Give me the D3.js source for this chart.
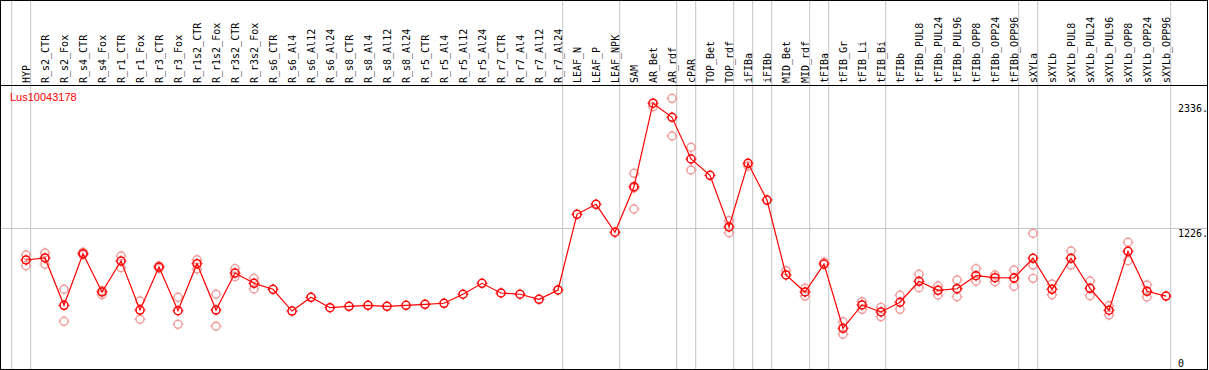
<!DOCTYPE html>
<html>
<head>
<meta charset="utf-8">
<script src="https://cdn.jsdelivr.net/npm/d3@7"></script>
<style>
  body { margin: 0; background: #fff; }
  svg { display: block; }
</style>
</head>
<body>
<div id="chart"></div>
<script>
const geneName = "Lus10043178";
const samples = ["HYP", "R_s2_CTR", "R_s2_Fox", "R_s4_CTR", "R_s4_Fox", "R_r1_CTR", "R_r1_Fox", "R_r3_CTR", "R_r3_Fox",
  "R_r1s2_CTR", "R_r1s2_Fox", "R_r3s2_CTR", "R_r3s2_Fox", "R_s6_CTR", "R_s6_Al4", "R_s6_Al12", "R_s6_Al24",
  "R_s8_CTR", "R_s8_Al4", "R_s8_Al12", "R_s8_Al24", "R_r5_CTR", "R_r5_Al4", "R_r5_Al12", "R_r5_Al24",
  "R_r7_CTR", "R_r7_Al4", "R_r7_Al12", "R_r7_Al24", "LEAF_N", "LEAF_P", "LEAF_NPK", "SAM", "AR_Bet", "AR_rdf",
  "cPAR", "TOP_Bet", "TOP_rdf", "iFIBa", "iFIBb", "MID_Bet", "MID_rdf", "tFIBa", "tFIB_Gr", "tFIB_Li", "tFIB_Bi",
  "tFIBb", "tFIBb_PUL8", "tFIBb_PUL24", "tFIBb_PUL96", "tFIBb_OPP8", "tFIBb_OPP24", "tFIBb_OPP96",
  "sXYLa", "sXYLb", "sXYLb_PUL8", "sXYLb_PUL24", "sXYLb_PUL96", "sXYLb_OPP8", "sXYLb_OPP24", "sXYLb_OPP96"];
const means = [945, 963, 543, 1001, 661, 936, 501, 883, 495,
  912, 501, 829, 738, 685, 492, 614, 522,
  534, 543, 534, 543, 552, 561, 641, 738,
  652, 641, 596, 679, 1350, 1439, 1191, 1595, 2336, 2211,
  1841, 1696, 1238, 1803, 1477, 812, 661, 909, 339, 546, 484,
  570, 756, 676, 690, 806, 788, 785,
  960, 685, 960, 694, 499, 1022, 667, 625];
const replicates = [[989, 894], [1007, 907], [685, 401], [1013, 992], [672, 637], [980, 877], [581, 419], [892, 871], [614, 374],
  [947, 865], [641, 357], [868, 797], [782, 688], [], [], [], [],
  [], [], [], [], [], [], [], [],
  [], [], [], [], [], [], [], [1714, 1584, 1397], [2305], [2379, 2045],
  [1945, 1743], [], [1293, 1187], [1779], [], [850], [694, 625], [927], [397, 286], [575, 507], [525, 442],
  [632, 507], [818, 699], [714, 634], [767, 619], [868, 756], [812, 752], [856, 712],
  [1182, 900, 782], [732, 637], [1025, 900], [759, 628], [539, 457], [1102, 939], [723, 617], []];
// a grey separator follows each of these samples
const groupEnds = ["HYP", "R_r7_Al24", "LEAF_NPK", "AR_rdf", "cPAR", "TOP_rdf", "iFIBa", "iFIBb", "MID_rdf",
  "tFIBa", "tFIB_Bi", "tFIBb_OPP96", "sXYLa", "sXYLb_OPP96"];
const yTicks = [0, 1226, 2336];

const w = 1209;
const h = 370;
const headerH = 85;
const bottom = 369;

const svg = d3.select("#chart").append("svg")
  .attr("width", w)
  .attr("height", h);

const x = d3.scalePoint().domain(samples).range([26, 1166]);
const y = d3.scaleLinear().domain([0, 2336]).range([366.5, 103.2]);
const step = x.step();

// grid
const sepX = [x(samples[0]) - step + 4.7].concat(groupEnds.map((s) => x(s) + 4.7));
svg.selectAll("line.sep")
  .data(sepX)
  .enter()
  .append("line")
  .attr("class", "sep")
  .attr("x1", (d) => d).attr("x2", (d) => d)
  .attr("y1", 0).attr("y2", bottom)
  .attr("stroke", "#c4c4c4")
  .attr("stroke-width", 1);

svg.append("line")
  .attr("x1", 1).attr("x2", w - 2)
  .attr("y1", Math.round(y(1226)) + 0.5).attr("y2", Math.round(y(1226)) + 0.5)
  .attr("stroke", "#c4c4c4");

// frame
svg.append("rect")
  .attr("x", 0.5).attr("y", 0.5)
  .attr("width", w - 2).attr("height", bottom)
  .attr("fill", "none")
  .attr("stroke", "#000");
svg.append("line")
  .attr("x1", 0).attr("x2", w - 1)
  .attr("y1", headerH + 0.5).attr("y2", headerH + 0.5)
  .attr("stroke", "#000");

// sample labels
svg.selectAll("text.lab")
  .data(samples)
  .enter()
  .append("text")
  .attr("class", "lab")
  .attr("transform", (d) => `translate(${x(d) + 4},${headerH - 2}) rotate(-90)`)
  .attr("font-family", "DejaVu Sans Mono, monospace")
  .attr("font-size", 10)
  .attr("fill", "#000")
  .text((d) => d);

// y axis
const yAxis = d3.axisRight(y)
  .tickValues(yTicks)
  .tickSize(0)
  .tickFormat((d) => d === 0 ? "0" : d + ".");
const gy = svg.append("g")
  .attr("transform", "translate(1176,0)")
  .call(yAxis);
gy.select(".domain").remove();
gy.selectAll("text")
  .attr("x", 2)
  .attr("dy", null)
  .attr("y", (d) => Math.min(8, bottom - 3 - y(d)))
  .attr("font-family", "DejaVu Sans Mono, monospace")
  .attr("font-size", 10)
  .attr("fill", "#000");

svg.append("text")
  .attr("x", 10).attr("y", 101)
  .attr("font-family", "Liberation Sans, Arial, sans-serif")
  .attr("font-size", 11)
  .attr("fill", "#ff0000")
  .text(geneName);

// markers
function marker(g, r) {
  g.append("circle").attr("r", r).attr("fill", "none");
  g.append("path")
    .attr("d", `M0,${-r - 1.5}V${-r}M0,${r}V${r + 1.5}M${-r - 1.5},0H${-r}M${r},0H${r + 1.5}`)
    .attr("stroke-width", 1);
}

const reps = [];
samples.forEach((s, i) => replicates[i].forEach((v) => reps.push({ s: s, v: v })));

svg.append("g")
  .attr("stroke", "#f09a9a")
  .attr("stroke-width", 1.4)
  .selectAll("g")
  .data(reps)
  .enter()
  .append("g")
  .attr("transform", (d) => `translate(${x(d.s)},${y(d.v)})`)
  .each(function () { marker(d3.select(this), 4); });

const line = d3.line()
  .x((d, i) => x(samples[i]))
  .y((d) => y(d));
svg.append("path")
  .datum(means)
  .attr("d", line)
  .attr("fill", "none")
  .attr("stroke", "#ff0000")
  .attr("stroke-width", 1.2);

svg.append("g")
  .attr("stroke", "#ff0000")
  .attr("stroke-width", 1.5)
  .selectAll("g")
  .data(means)
  .enter()
  .append("g")
  .attr("transform", (d, i) => `translate(${x(samples[i])},${y(d)})`)
  .each(function () { marker(d3.select(this), 4); });
</script>
</body>
</html>
